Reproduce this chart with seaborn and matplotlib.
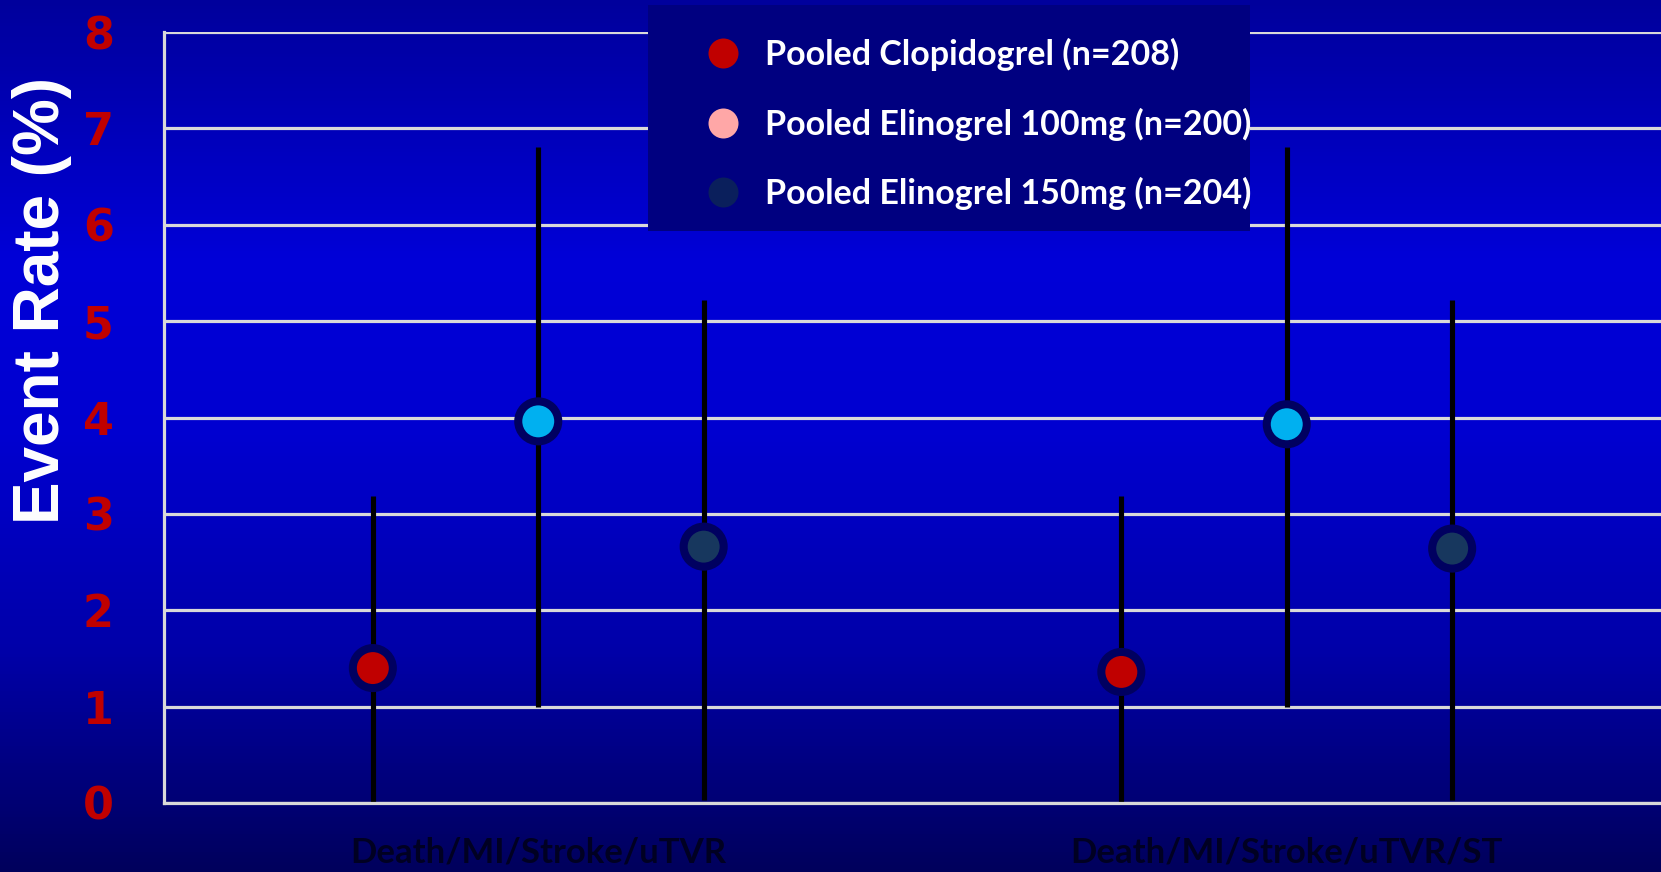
import numpy as np
import pandas as pd
import seaborn as sns
import matplotlib.pyplot as plt
from matplotlib.lines import Line2D
from matplotlib.patches import Rectangle
from matplotlib.colors import LinearSegmentedColormap

endpoints = ["Death/MI/Stroke/uTVR", "Death/MI/Stroke/uTVR/ST"]
groups = ["Pooled Clopidogrel (n=208)",
          "Pooled Elinogrel 100mg (n=200)",
          "Pooled Elinogrel 150mg (n=204)"]

# event rate (%) and interval per endpoint, in group order
rate_utvr = [1.40, 3.96, 2.66]
rate_utvr_st = [1.36, 3.93, 2.64]
low_utvr = [0.0, 1.0, 0.03]
low_utvr_st = [0.0, 1.0, 0.03]
high_utvr = [3.19, 6.81, 5.22]
high_utvr_st = [3.19, 6.81, 5.22]

point_colors = ["#c00000", "#00b0f0", "#17375e"]
legend_colors = ["#c00000", "#ffa7a7", "#0a1f5c"]

rows = []
for e, (rates, lows, highs) in enumerate([(rate_utvr, low_utvr, high_utvr),
                                          (rate_utvr_st, low_utvr_st, high_utvr_st)]):
    for g, name in enumerate(groups):
        rows.append({"endpoint": endpoints[e], "group": name,
                     "pos": e + (g - 1) * 0.221,
                     "rate": rates[g], "lo": lows[g], "hi": highs[g]})
df = pd.DataFrame(rows)

sns.set_theme(style="white")

W, H = 1661, 872
fig = plt.figure(figsize=(W / 100, H / 100), dpi=100)

# gradient background
bg = fig.add_axes([0, 0, 1, 1], zorder=-1)
cmap = LinearSegmentedColormap.from_list(
    "bg", [(0.0, "#00009c"), (0.3, "#0000d8"), (0.5, "#0000d0"),
           (0.75, "#0000a8"), (1.0, "#00005c")])
bg.imshow(np.linspace(0, 1, 256)[:, None], aspect="auto", cmap=cmap,
          extent=[0, 1, 0, 1])
bg.axis("off")

ax = fig.add_axes([164 / W, 1 - 803 / H, 1 - 164 / W, (803 - 32) / H])
ax.patch.set_alpha(0)

ax.vlines(df["pos"], df["lo"], df["hi"], color="black", lw=3.7, zorder=2)
sns.scatterplot(data=df, x="pos", y="rate", hue="group", palette=point_colors,
                s=830, edgecolor="#000060", linewidth=5.8, legend=False,
                zorder=3, ax=ax, clip_on=False)

ax.set_xlim(-0.5, 1.5)
ax.set_ylim(0, 8)
ax.set_yticks(range(9))
ax.yaxis.grid(True, color="#d9d9d9", lw=2.3, zorder=1)
ax.xaxis.grid(False)
for side in ["top", "right"]:
    ax.spines[side].set_visible(False)
ax.spines["left"].set_color("#d9d9d9")
ax.spines["left"].set_linewidth(2.3)
ax.spines["bottom"].set_color("#d9d9d9")
ax.spines["bottom"].set_linewidth(2.3)

ax.set_xticks(range(len(endpoints)))
ax.set_xticklabels(endpoints, color="#000022", fontfamily="Lato",
                   fontweight="bold", fontsize=25)
ax.tick_params(axis="x", length=0, pad=24)
ax.tick_params(axis="y", length=0, pad=36)
for t in ax.get_yticklabels():
    t.set_color("#c00000")
    t.set_fontsize(32)
    t.set_fontweight("bold")
ax.set_xlabel("")
ax.set_ylabel("")

fig.text(42 / W, 1 - 300 / H, "Event Rate (%)", rotation=90, color="white",
         fontsize=46, fontweight="bold", family="Liberation Sans",
         ha="center", va="center")

# legend panel (fixed box, text may run past its right edge as in the slide)
ax.add_patch(Rectangle((648 / W, 1 - 231 / H), 602 / W, 226 / H,
                       transform=fig.transFigure, facecolor="#000080",
                       edgecolor="none", zorder=4, clip_on=False))
handles = [Line2D([], [], marker="o", ls="", markersize=21.6,
                  markerfacecolor=c, markeredgewidth=0) for c in legend_colors]
leg = ax.legend(handles, groups, loc="upper left",
                bbox_to_anchor=(681 / W, 1 - 38 / H),
                bbox_transform=fig.transFigure, frameon=False,
                labelcolor="white",
                prop=dict(family="Lato", weight="bold", size=24.5),
                labelspacing=1.07, handletextpad=0.0, handlelength=2.47,
                borderpad=0, borderaxespad=0)
leg.set_zorder(5)

fig.savefig("out.png", dpi=100)
